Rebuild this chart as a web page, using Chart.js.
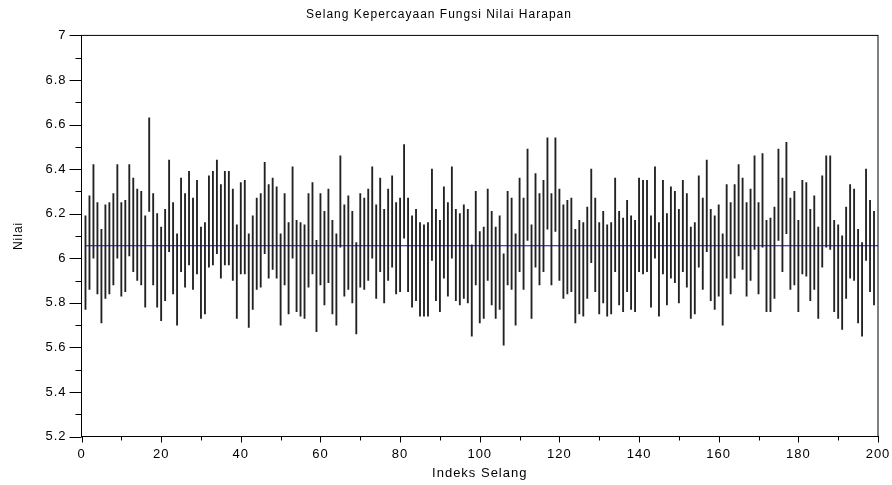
<!DOCTYPE html>
<html>
<head>
<meta charset="utf-8">
<title>Selang Kepercayaan Fungsi Nilai Harapan</title>
<script src="https://cdn.jsdelivr.net/npm/chart.js@4.4.1/dist/chart.umd.min.js"></script>
<style>
  html, body { margin: 0; padding: 0; background: #ffffff; }
  #wrap { width: 892px; height: 485px; }
</style>
</head>
<body>
<div id="wrap"><canvas id="ciChart" width="892" height="485"></canvas></div>
<script>
// Upper bound of each interval (index 1..199)
const upperBounds = [
  6.19, 6.28, 6.42, 6.25, 6.13, 6.24, 6.25, 6.29, 6.42, 6.25, 6.26, 6.42, 6.36, 6.31, 6.30, 6.19, 6.63, 6.29, 6.20, 6.14, 6.22, 6.44, 6.25, 6.11,
  6.36, 6.29, 6.39, 6.27, 6.35, 6.14, 6.16, 6.37, 6.39, 6.44, 6.33, 6.39, 6.39, 6.31, 6.15, 6.34, 6.35, 6.11, 6.19, 6.27, 6.29, 6.43, 6.33, 6.36, 6.32,
  6.11, 6.29, 6.16, 6.41, 6.17, 6.16, 6.15, 6.29, 6.34, 6.08, 6.29, 6.21, 6.31, 6.17, 6.11, 6.46, 6.24, 6.28, 6.21, 6.07, 6.29, 6.27, 6.31, 6.41, 6.24,
  6.36, 6.22, 6.31, 6.37, 6.25, 6.27, 6.51, 6.27, 6.19, 6.22, 6.16, 6.15, 6.16, 6.40, 6.22, 6.17, 6.32, 6.25, 6.41, 6.22, 6.20, 6.24, 6.22, 6.06, 6.30, 6.12,
  6.14, 6.31, 6.21, 6.14, 6.19, 6.02, 6.30, 6.27, 6.11, 6.36, 6.27, 6.49, 6.15, 6.38, 6.29, 6.35, 6.54, 6.29, 6.54, 6.31, 6.24, 6.26, 6.27, 6.13, 6.17,
  6.16, 6.23, 6.40, 6.27, 6.16, 6.21, 6.15, 6.16, 6.36, 6.21, 6.18, 6.26, 6.19, 6.17, 6.36, 6.35, 6.35, 6.19, 6.41, 6.16, 6.35, 6.20, 6.32, 6.30, 6.22,
  6.35, 6.29, 6.14, 6.16, 6.37, 6.27, 6.44, 6.22, 6.19, 6.24, 6.11, 6.33, 6.25, 6.33, 6.42, 6.36, 6.25, 6.31, 6.46, 6.25, 6.47, 6.17, 6.18, 6.23, 6.49,
  6.36, 6.52, 6.27, 6.30, 6.17, 6.35, 6.34, 6.22, 6.28, 6.14, 6.37, 6.46, 6.46, 6.17, 6.15, 6.10, 6.23, 6.33, 6.31, 6.13, 6.07, 6.40, 6.26, 6.21
];

// Lower bound of each interval
const lowerBounds = [
  5.77, 5.86, 6.00, 5.84, 5.71, 5.82, 5.84, 5.88, 6.00, 5.83, 5.85, 6.01, 5.94, 5.90, 5.88, 5.78, 6.21, 5.88, 5.78, 5.72, 5.81, 6.03, 5.84, 5.70,
  5.94, 5.87, 5.97, 5.86, 5.93, 5.73, 5.75, 5.96, 5.97, 6.02, 5.91, 5.97, 5.97, 5.90, 5.73, 5.93, 5.93, 5.69, 5.77, 5.86, 5.87, 6.02, 5.91, 5.95, 5.91,
  5.70, 5.88, 5.75, 6.00, 5.76, 5.74, 5.73, 5.87, 5.93, 5.67, 5.88, 5.79, 5.89, 5.75, 5.70, 6.05, 5.83, 5.86, 5.80, 5.66, 5.87, 5.86, 5.90, 6.00, 5.82,
  5.94, 5.80, 5.90, 5.96, 5.84, 5.85, 6.09, 5.85, 5.78, 5.81, 5.74, 5.74, 5.74, 5.99, 5.81, 5.76, 5.91, 5.83, 6.00, 5.81, 5.79, 5.82, 5.80, 5.65, 5.88, 5.71,
  5.73, 5.90, 5.79, 5.73, 5.77, 5.61, 5.88, 5.86, 5.70, 5.94, 5.86, 6.08, 5.73, 5.96, 5.88, 5.94, 6.13, 5.88, 6.12, 5.90, 5.82, 5.84, 5.85, 5.71, 5.75,
  5.74, 5.82, 5.98, 5.85, 5.75, 5.80, 5.74, 5.75, 5.94, 5.79, 5.76, 5.85, 5.77, 5.76, 5.94, 5.93, 5.94, 5.78, 6.00, 5.74, 5.93, 5.79, 5.91, 5.89, 5.80,
  5.94, 5.87, 5.73, 5.75, 5.96, 5.86, 6.03, 5.81, 5.77, 5.83, 5.70, 5.91, 5.84, 5.91, 6.01, 5.95, 5.83, 5.90, 6.04, 5.84, 6.05, 5.76, 5.76, 5.82, 6.08,
  5.94, 6.11, 5.86, 5.88, 5.76, 5.93, 5.92, 5.81, 5.86, 5.73, 5.96, 6.05, 6.04, 5.76, 5.73, 5.68, 5.82, 5.91, 5.90, 5.71, 5.65, 5.99, 5.85, 5.79
];

// Expected value (horizontal reference line)
const meanValue = 6.056;
const meanLineX = [1, 200];

// Axis ranges
const xRange = [0, 200];
const yRange = [5.2, 7];

const FONT = "'Liberation Sans', Arial, Helvetica, sans-serif";

// Function to build the interval data for a floating bar dataset
function buildIntervals() {
  return upperBounds.map((u, i) => ({ x: i + 1, y: [lowerBounds[i], u] }));
}

// Plugin: a bit of letter spacing so the text is as wide as in the original plot
const spacedText = {
  id: "spacedText",
  beforeLayout(chart) { chart.ctx.letterSpacing = "1px"; },
  beforeDraw(chart) { chart.ctx.letterSpacing = "1px"; },
};

// Plugin: frame around the plot plus major/minor tick marks outside the axes
const frameAndTicks = {
  id: "frameAndTicks",
  afterDraw(chart) {
    const { ctx, chartArea, scales } = chart;
    const xs = scales.x, ys = scales.y;
    ctx.save();
    ctx.strokeStyle = "#000";
    ctx.lineWidth = 1;
    ctx.strokeRect(chartArea.left, chartArea.top, chartArea.right - chartArea.left, chartArea.bottom - chartArea.top);

    ctx.beginPath();
    // y ticks every 0.1, major every 0.2
    for (let k = 0; k <= 18; k++) {
      const v = yRange[0] + k * 0.1;
      const py = Math.round(ys.getPixelForValue(v)) + 0.5;
      const len = k % 2 === 0 ? 12 : 6;
      ctx.moveTo(chartArea.left - len, py);
      ctx.lineTo(chartArea.left, py);
    }
    // x ticks every 10, major every 20
    for (let k = 0; k <= 20; k++) {
      const v = xRange[0] + k * 10;
      const px = Math.round(xs.getPixelForValue(v)) + 0.5;
      const len = k % 2 === 0 ? 6 : 4;
      ctx.moveTo(px, chartArea.bottom);
      ctx.lineTo(px, chartArea.bottom + len);
    }
    ctx.stroke();
    ctx.restore();
  }
};

function initializeChart() {
  const ctx = document.getElementById("ciChart").getContext("2d");

  new Chart(ctx, {
    type: "bar",
    data: {
      datasets: [
        {
          type: "line",
          label: "Nilai Harapan",
          data: meanLineX.map((x) => ({ x: x, y: meanValue })),
          borderColor: "#0a0ab4",
          borderWidth: 1,
          pointRadius: 0,
          order: 0,
        },
        {
          type: "bar",
          label: "Selang",
          data: buildIntervals(),
          backgroundColor: "#222222",
          borderWidth: 0,
          barThickness: 1.2,
          order: 1,
        },
      ],
    },
    options: {
      responsive: false,
      animation: false,
      layout: { padding: { left: 0, right: 14, top: 0, bottom: 0 } },
      plugins: {
        legend: { display: false },
        tooltip: { enabled: false },
        title: {
          display: true,
          text: "Selang Kepercayaan Fungsi Nilai Harapan",
          color: "#000",
          font: { family: FONT, size: 12, weight: "normal" },
          padding: { top: 7, bottom: 14 },
        },
      },
      scales: {
        x: {
          type: "linear",
          min: xRange[0],
          max: xRange[1],
          offset: false,
          grid: { display: false },
          border: { display: true, color: "#000", width: 1 },
          ticks: {
            stepSize: 20,
            color: "#000",
            padding: 2,
            maxRotation: 0,
            font: { family: FONT, size: 13 },
          },
          title: {
            display: true,
            text: "Indeks Selang",
            color: "#000",
            font: { family: FONT, size: 13 },
            padding: { top: 0, bottom: 4 },
          },
          afterFit(scale) {
            scale.height = 48.5;
            scale.paddingLeft = 0;
            scale.paddingRight = 0;
          },
        },
        y: {
          min: yRange[0],
          max: yRange[1],
          grid: { display: false },
          border: { display: true, color: "#000", width: 1 },
          ticks: {
            stepSize: 0.2,
            color: "#000",
            padding: 7,
            font: { family: FONT, size: 13 },
            callback: (v) => String(Math.round(v * 10) / 10),
          },
          title: {
            display: true,
            text: "Nilai",
            color: "#000",
            font: { family: FONT, size: 12 },
            padding: { top: 11, bottom: 0 },
          },
          afterFit(scale) {
            scale.width = 81.5;
            scale.paddingTop = 0;
            scale.paddingBottom = 0;
          },
        },
      },
    },
    plugins: [spacedText, frameAndTicks],
  });
}

document.addEventListener("DOMContentLoaded", initializeChart);
</script>
</body>
</html>
